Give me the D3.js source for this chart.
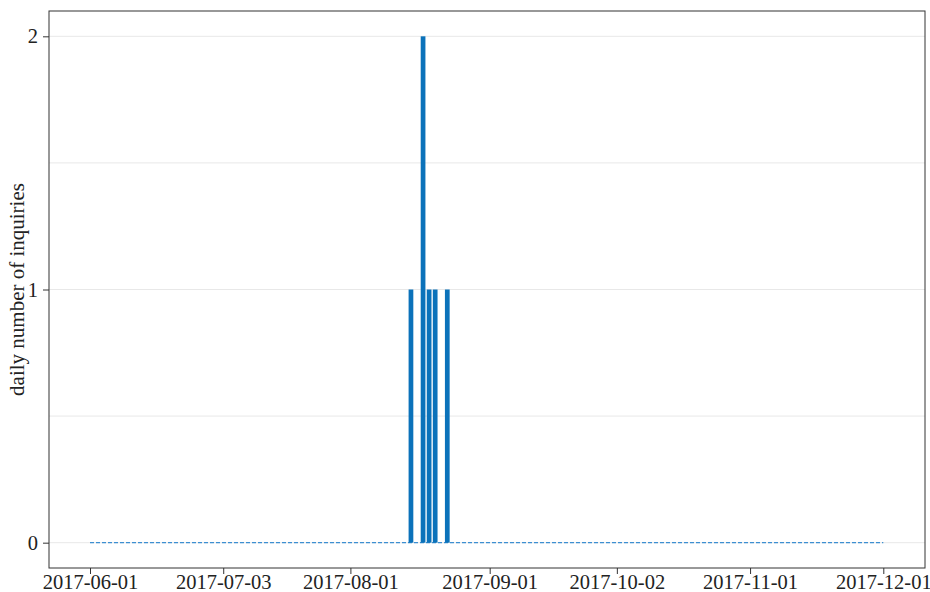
<!DOCTYPE html>
<html>
<head>
<meta charset="utf-8">
<script src="https://cdn.jsdelivr.net/npm/d3@7"></script>
<style>
  body { margin: 0; background: #fff; }
  svg { display: block; font-family: "Liberation Serif", "DejaVu Serif", serif; }
  .grid line { stroke: #e8e8e8; stroke-width: 1; }
  .axis path { display: none; }
  .axis line { stroke: #333; }
  .axis text { fill: #222; font-size: 20.5px; font-family: "Liberation Serif", "DejaVu Serif", serif; }
</style>
</head>
<body>
<svg width="930" height="592"></svg>
<script>
// range of business days shown on the x axis
var startDay = "2017-06-01",
    endDay = "2017-12-01";

// days with inquiries
var dates = ["2017-08-15", "2017-08-17", "2017-08-18", "2017-08-21", "2017-08-23"];
var counts = [1, 2, 1, 1, 1];

var xTicks = ["2017-06-01", "2017-07-03", "2017-08-01", "2017-09-01", "2017-10-02", "2017-11-01", "2017-12-01"];
var yTicks = [0, 1, 2];
var yGrid = [0, 0.5, 1, 1.5, 2];

var fmt = d3.utcFormat("%Y-%m-%d"),
    parse = d3.utcParse("%Y-%m-%d");

// categorical axis over weekdays only
var days = d3.utcDays(parse(startDay), d3.utcDay.offset(parse(endDay), 1))
    .filter(function (d) { return d.getUTCDay() !== 0 && d.getUTCDay() !== 6; })
    .map(fmt);

var data = dates.map(function (d, i) { return { date: d, count: counts[i] }; });

var svg = d3.select("svg"),
    margin = { top: 11, right: 5, bottom: 24, left: 49 },
    width = +svg.attr("width") - margin.left - margin.right,
    height = +svg.attr("height") - margin.top - margin.bottom;

var g = svg.append("g")
    .attr("transform", "translate(" + margin.left + "," + margin.top + ")");

var x = d3.scalePoint().domain(days).range([41, 834.3]),
    y = d3.scaleLinear().domain([-0.1, 2.1]).range([height, 0]);

var barW = x.step() * 0.78;

g.append("g")
    .attr("class", "grid")
    .selectAll("line")
    .data(yGrid)
    .enter().append("line")
    .attr("x1", 0)
    .attr("x2", width)
    .attr("y1", function (d) { return y(d); })
    .attr("y2", function (d) { return y(d); });

// zero baseline across every day
g.append("line")
    .attr("x1", x(days[0]))
    .attr("x2", x(days[days.length - 1]))
    .attr("y1", y(0))
    .attr("y2", y(0))
    .attr("stroke", "#3d8fd1")
    .attr("stroke-width", 1.2)
    .attr("stroke-dasharray", "4,2");

g.selectAll(".bar")
    .data(data)
    .enter().append("rect")
    .attr("class", "bar")
    .attr("x", function (d) { return x(d.date) - barW / 2; })
    .attr("y", function (d) { return y(d.count); })
    .attr("width", barW)
    .attr("height", function (d) { return y(0) - y(d.count); })
    .attr("fill", "#0b72ba");

g.append("g")
    .attr("class", "axis axis--x")
    .attr("transform", "translate(0," + height + ")")
    .call(d3.axisBottom(x).tickValues(xTicks).tickSize(6).tickPadding(0));

g.append("g")
    .attr("class", "axis axis--y")
    .call(d3.axisLeft(y).tickValues(yTicks).tickFormat(d3.format("d")).tickSize(6).tickPadding(5));

g.append("rect")
    .attr("width", width)
    .attr("height", height)
    .attr("fill", "none")
    .attr("stroke", "#333")
    .attr("stroke-width", 1);

svg.append("text")
    .attr("transform", "translate(24," + (margin.top + height / 2) + ") rotate(-90)")
    .attr("text-anchor", "middle")
    .attr("font-size", 21)
    .attr("fill", "#222")
    .text("daily number of inquiries");
</script>
</body>
</html>
